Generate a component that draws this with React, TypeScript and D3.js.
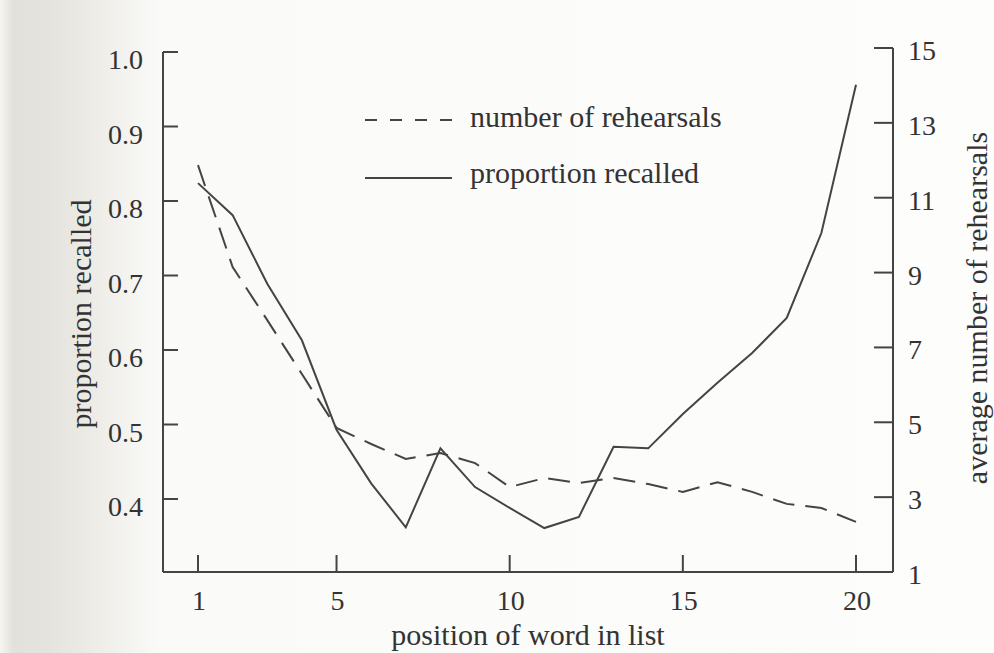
import * as d3 from "d3";

// word position in the list (x axis)
const positions = [1, 2, 3, 4, 5, 6, 7, 8, 9, 10, 11, 12, 13, 14, 15, 16, 17, 18, 19, 20];

// proportion recalled (left axis, solid line)
const recalled = [
  0.824, 0.781, 0.689, 0.613, 0.493, 0.421, 0.362, 0.468, 0.416, 0.388,
  0.361, 0.376, 0.47, 0.468, 0.514, 0.556, 0.596, 0.643, 0.757, 0.956,
];

// average number of rehearsals (right axis, dashed line)
const rehearsals = [
  11.87, 9.15, 7.73, 6.29, 4.85, 4.42, 4.02, 4.18, 3.91, 3.27,
  3.51, 3.38, 3.51, 3.35, 3.14, 3.4, 3.14, 2.82, 2.71, 2.34,
];

const xTicks = [1, 5, 10, 15, 20];
const leftTicks = [0.4, 0.5, 0.6, 0.7, 0.8, 0.9, 1.0];
const rightTicks = [1, 3, 5, 7, 9, 11, 13, 15];

const W = 994;
const H = 653;
const ink = "#444444";
const textInk = "#333333";
const font = "'Liberation Serif', 'Times New Roman', serif";

export default function App() {
  const x = d3.scaleLinear().domain([1, 20]).range([198, 856]);
  const yL = d3.scaleLinear().domain([0.4, 1.0]).range([499, 52]);
  const yR = d3.scaleLinear().domain([1, 15]).range([572, 48]);

  const leftX = 163;
  const rightX = 893;
  const baseY = yR(1);

  const solid = d3
    .line<number>()
    .x((_, i) => x(positions[i]))
    .y((d) => yL(d))(recalled);

  const dashed = d3
    .line<number>()
    .x((_, i) => x(positions[i]))
    .y((d) => yR(d))(rehearsals);

  return (
    <svg
      width={W}
      height={H}
      viewBox={`0 0 ${W} ${H}`}
      style={{ position: "absolute", left: 0, top: 0, display: "block" }}
      fontFamily={font}
    >
      <defs>
        <linearGradient id="paper" x1="0" x2="1" y1="0" y2="0">
          <stop offset="0" stopColor="#f6f5f1" />
          <stop offset="0.013" stopColor="#e3e1db" />
          <stop offset="0.05" stopColor="#e5e3dd" />
          <stop offset="0.1" stopColor="#eeede8" />
          <stop offset="0.16" stopColor="#fafaf8" />
          <stop offset="1" stopColor="#fdfdfc" />
        </linearGradient>
      </defs>
      <rect x={0} y={0} width={W} height={H} fill="url(#paper)" />

      {/* axes */}
      <g stroke={ink} strokeWidth={2} fill="none">
        <line x1={leftX} y1={yL(1.0)} x2={leftX} y2={baseY} />
        <line x1={leftX} y1={baseY} x2={rightX} y2={baseY} />
        <line x1={rightX} y1={yR(15)} x2={rightX} y2={baseY} />
        {leftTicks.map((t) => (
          <line key={"l" + t} x1={leftX} x2={leftX + 15} y1={yL(t)} y2={yL(t)} />
        ))}
        {rightTicks
          .filter((t) => t !== 1)
          .map((t) => (
            <line key={"r" + t} x1={rightX - 19} x2={rightX} y1={yR(t)} y2={yR(t)} />
          ))}
        {xTicks.map((t) => (
          <line key={"x" + t} x1={x(t)} x2={x(t)} y1={baseY} y2={baseY - 17} />
        ))}
      </g>

      {/* tick labels */}
      <g fill={textInk} fontSize={28}>
        {leftTicks.map((t) => (
          <text key={"lt" + t} x={143} y={yL(t) + 17} textAnchor="end">
            {t.toFixed(1)}
          </text>
        ))}
        {rightTicks.map((t) => (
          <text key={"rt" + t} x={908} y={yR(t) + 12} textAnchor="start">
            {t}
          </text>
        ))}
        {xTicks.map((t) => (
          <text key={"xt" + t} x={x(t) + 1} y={610} textAnchor="middle">
            {t}
          </text>
        ))}
      </g>

      {/* axis titles */}
      <g fill={textInk} fontSize={30}>
        <text x={528} y={645} textAnchor="middle">
          position of word in list
        </text>
        <text transform="translate(91,314) rotate(-90)" textAnchor="middle">
          proportion recalled
        </text>
        <text transform="translate(987,308) rotate(-90)" textAnchor="middle">
          average number of rehearsals
        </text>
      </g>

      {/* data */}
      <path d={solid ?? ""} fill="none" stroke={ink} strokeWidth={2} />
      <path d={dashed ?? ""} fill="none" stroke={ink} strokeWidth={2} strokeDasharray="22 11" />

      {/* legend */}
      <g>
        <line x1={365} x2={452} y1={120} y2={120} stroke={ink} strokeWidth={2} strokeDasharray="12 13" />
        <text x={470} y={127} fill={textInk} fontSize={30}>
          number of rehearsals
        </text>
        <line x1={365} x2={452} y1={178} y2={178} stroke={ink} strokeWidth={2} />
        <text x={470} y={183} fill={textInk} fontSize={30}>
          proportion recalled
        </text>
      </g>
    </svg>
  );
}
